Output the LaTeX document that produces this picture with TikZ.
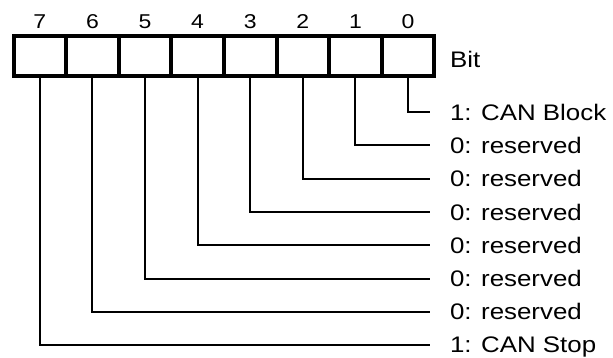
\documentclass[tikz,border=0pt]{standalone}
\usepackage{fontspec}
\setmainfont[FakeStretch=1.15]{Liberation Sans}
\begin{document}
\begin{tikzpicture}[x=1pt, y=-1pt,
    bitcell/.style={draw, line width=4pt, minimum width=52.6pt, minimum height=40pt, inner sep=0pt, outer sep=0pt},
    bitnum/.style={font=\fontsize{20}{20}\selectfont, inner sep=0pt, text depth=0pt, label distance=7pt},
    bittext/.style={anchor=west, font=\fontsize{22.5}{22.5}\selectfont, inner sep=0pt, outer xsep=20pt, outer ysep=0pt, text depth=0pt},
    wire/.style={line width=2pt}]
    \useasboundingbox (0,0) rectangle (613,358);

    % register, bit 7 left
    \node[bitcell, label={[bitnum]above:7}] (c7) at (39.8,56) {};
    \node[bitcell, label={[bitnum]above:6}] (c6) at (92.4,56) {};
    \node[bitcell, label={[bitnum]above:5}] (c5) at (145,56) {};
    \node[bitcell, label={[bitnum]above:4}] (c4) at (197.6,56) {};
    \node[bitcell, label={[bitnum]above:3}] (c3) at (250.2,56) {};
    \node[bitcell, label={[bitnum]above:2}] (c2) at (302.8,56) {};
    \node[bitcell, label={[bitnum]above:1}] (c1) at (355.4,56) {};
    \node[bitcell, label={[bitnum]above:0}] (c0) at (408,56) {};
    \node[bittext] (bit) at (430,59) {Bit};

    % meaning of the bits
    \node[bittext] (l0) at (430,112) {1: CAN Block};
    \node[bittext] (l1) at (430,145.3) {0: reserved};
    \node[bittext] (l2) at (430,178.6) {0: reserved};
    \node[bittext] (l3) at (430,211.9) {0: reserved};
    \node[bittext] (l4) at (430,245.2) {0: reserved};
    \node[bittext] (l5) at (430,278.5) {0: reserved};
    \node[bittext] (l6) at (430,311.8) {0: reserved};
    \node[bittext] (l7) at (430,345) {1: CAN Stop};

    \draw[wire] (c0) |- (l0);
    \draw[wire] (c1) |- (l1);
    \draw[wire] (c2) |- (l2);
    \draw[wire] (c3) |- (l3);
    \draw[wire] (c4) |- (l4);
    \draw[wire] (c5) |- (l5);
    \draw[wire] (c6) |- (l6);
    \draw[wire] (c7) |- (l7);
\end{tikzpicture}
\end{document}
